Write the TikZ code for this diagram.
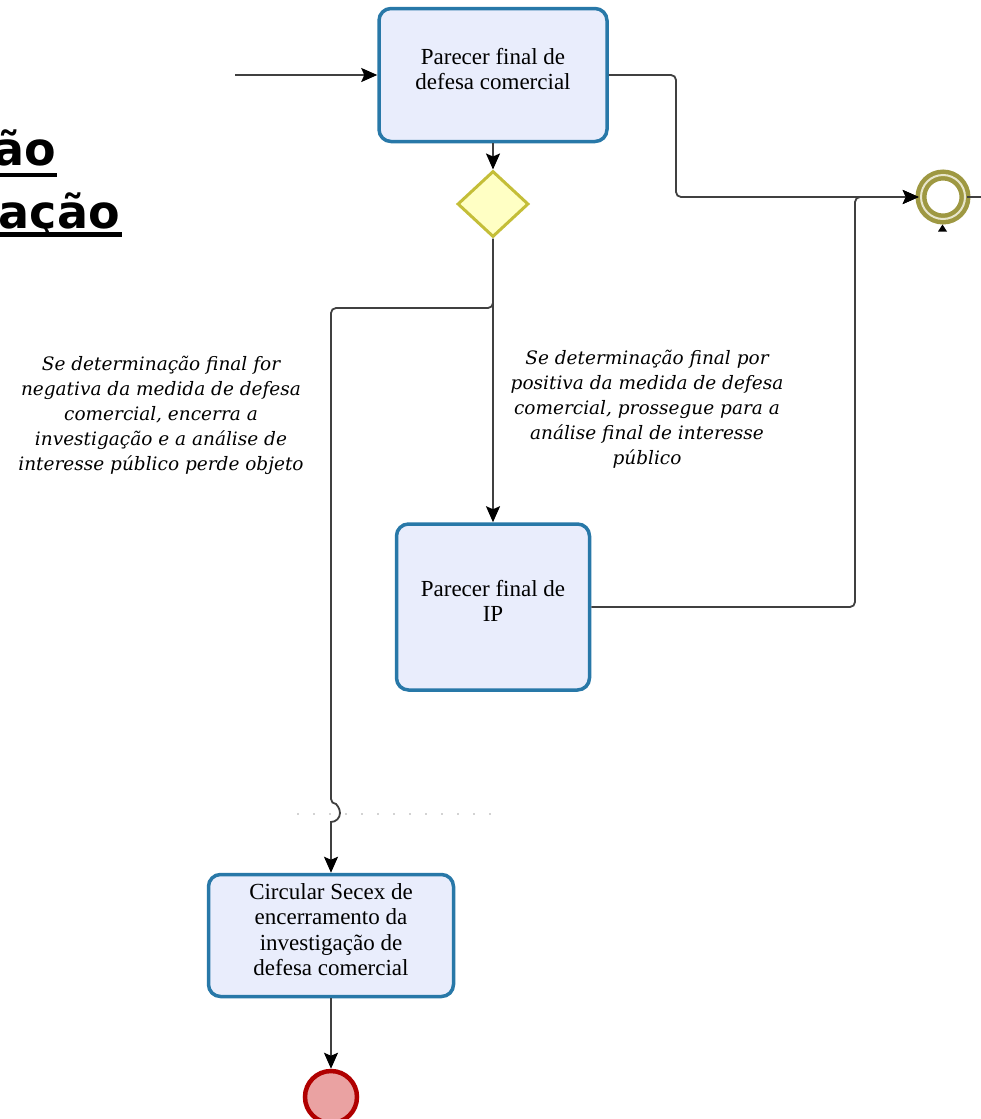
\documentclass[tikz,border=0pt]{standalone}
\usepackage{fontspec}
\setmainfont{Liberation Serif}
\newfontfamily\notefont{DejaVu Serif}
\newfontfamily\headfont{DejaVu Sans}
\usetikzlibrary{shapes.geometric,arrows.meta}

\definecolor{taskblue}{RGB}{40,120,168}
\definecolor{taskfill}{RGB}{233,237,252}
\definecolor{gwline}{RGB}{196,190,56}
\definecolor{gwfill}{RGB}{255,255,196}
\definecolor{ringolive}{RGB}{158,152,66}
\definecolor{ringgap}{RGB}{232,230,204}
\definecolor{endred}{RGB}{176,0,0}
\definecolor{endfill}{RGB}{234,162,162}
\definecolor{flowgray}{RGB}{64,64,64}

\begin{document}
\begin{tikzpicture}
		[x=1pt,y=-1pt,
		task/.style={
			rectangle,
			rounded corners=12pt,
			draw=taskblue,
			fill=taskfill,
			line width=3.5pt,
			inner sep=0pt
		},
		tasktext/.style={align=center,inner sep=0pt,font=\fontsize{23}{25.5}\selectfont},
		note/.style={align=center,inner sep=0pt,font=\notefont\itshape\fontsize{18.5}{25}\selectfont},
		gateway/.style={diamond,draw=gwline,fill=gwfill,line width=3pt,inner sep=0pt,minimum width=71pt,minimum height=66pt},
		endring/.style={circle,draw=ringolive,double=ringgap,double distance=2pt,line width=4.5pt,fill=white,inner sep=0pt,minimum size=44pt},
		endstop/.style={circle,draw=endred,fill=endfill,line width=4.5pt,inner sep=0pt,minimum size=52pt},
		flow/.style={draw=flowgray,line width=1.8pt,rounded corners=5pt,-{Stealth[length=16pt,width=14pt,inset=3pt,color=black]}},
		heading/.style={anchor=base east,inner sep=0pt,font=\headfont\bfseries\fontsize{46}{50}\selectfont},
		underbar/.style={line width=4.5pt},
		lanesep/.style={draw=gray!70,line width=1.8pt,line cap=round,dash pattern=on 0pt off 16pt}]
		\useasboundingbox (0,0) rectangle (980,1119);
		\node[heading] (head1) at (56,165) {ão};
		\node[heading] (head2) at (120,228) {ação};
		\draw[underbar] (-20,175) -- (57,175);
		\draw[underbar] (-20,234.5) -- (122,234.5);
		\node[task,minimum width=228pt,minimum height=133pt] (pfdc) at (493,75) {};
		\node[tasktext] (pfdctext) at ([yshift=6pt]pfdc.center) {Parecer final de\\defesa comercial};
		\node[gateway] (gw) at (493,204) {};
		\node[task,minimum width=193pt,minimum height=166pt] (pip) at (493,607) {};
		\node[tasktext] (piptext) at ([yshift=6pt]pip.center) {Parecer final de\\IP};
		\node[task,minimum width=245pt,minimum height=122pt] (circ) at (331,935.5) {};
		\node[tasktext] (circtext) at ([yshift=6pt]circ.center) {Circular Secex de\\encerramento da\\investigação de\\defesa comercial};
		\node[endring] (endip) at (943,197) {};
		\fill (938,231.5) -- (947,231.5) -- (942.5,224.5) -- cycle;
		\node[endstop] (endinv) at (331,1097) {};
		\node[note,anchor=north] (negnote) at (161,356) {Se determinação final for\\negativa da medida de defesa\\comercial, encerra a\\investigação e a análise de\\interesse público perde objeto};
		\node[note,anchor=north] (posnote) at (647,350) {Se determinação final por\\positiva da medida de defesa\\comercial, prossegue para a\\análise final de interesse\\público};
		\coordinate (start) at (235,75);
		\coordinate (onward) at (985,197);
		\draw[lanesep] (298,814) -- (495,814);
		\draw[flow] (start) -- (pfdc.west);
		\draw[flow] (pfdc.south) -- (gw.north);
		\draw[flow] (pfdc.east) -- (676,75) -- (676,197) -- (endip.west);
		\draw[flow] (gw.south) -- (pip.north);
		\draw[flow] (gw.south) -- (493,308) -- (331,308) -- (331,804) {[sharp corners] arc[start angle=-90,end angle=90,radius=9]} -- (circ.north);
		\draw[flow] (pip.east) -- (855,607) -- (855,197) -- (endip.west);
		\draw[flow] (circ.south) -- (endinv.north);
		\draw[draw=flowgray,line width=1.8pt] (endip.east) -- (onward);
	\end{tikzpicture}
\end{document}
